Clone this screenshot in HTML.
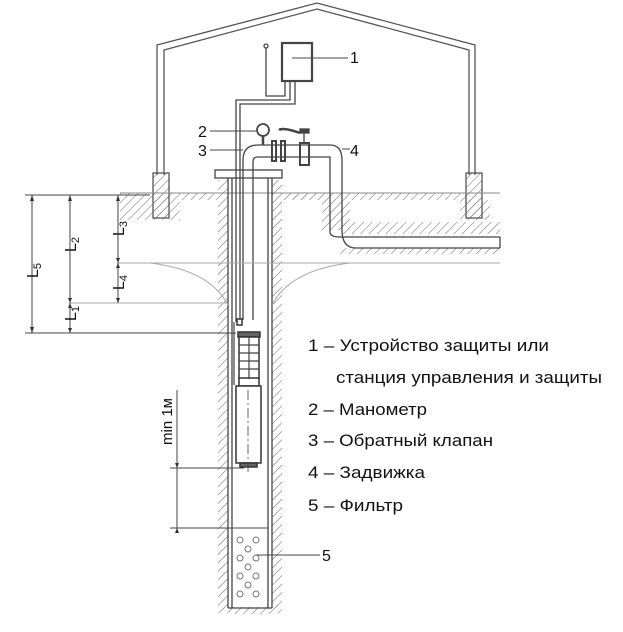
<!DOCTYPE html>
<html><head><meta charset="utf-8"><style>
html,body{margin:0;padding:0;background:#fff}
svg{display:block}
text{font-family:"Liberation Sans","Noto Sans CJK SC",sans-serif;fill:#111}
</style></head><body>
<svg width="623" height="632" viewBox="0 0 623 632" xmlns="http://www.w3.org/2000/svg">
<defs>
<pattern id="h" width="6" height="6" patternUnits="userSpaceOnUse" patternTransform="rotate(45)">
<line x1="0" y1="0" x2="0" y2="6" stroke="#666" stroke-width="1"/>
</pattern>
</defs>
<g fill="none" stroke="#555" stroke-width="1.3">
<polyline points="157,175 157,45 317,3 475,45 475,175"/>
<polyline points="164,175 164,50 317,9 469,50 469,175"/>
</g>
<rect x="153" y="173" width="16" height="45" fill="url(#h)" stroke="#555" stroke-width="1.3"/>
<rect x="466" y="173" width="16" height="45" fill="url(#h)" stroke="#555" stroke-width="1.3"/>
<rect x="120" y="193" width="98" height="7" fill="url(#h)"/>
<rect x="282" y="193" width="200" height="7" fill="url(#h)"/>
<rect x="120" y="200" width="60" height="20" fill="url(#h)"/>
<rect x="460" y="200" width="30" height="20" fill="url(#h)"/>
<rect x="322" y="200" width="28" height="30" fill="url(#h)"/>
<rect x="340" y="222" width="160" height="12" fill="url(#h)"/>
<rect x="340" y="248" width="160" height="6" fill="url(#h)"/>
<line x1="120" y1="193" x2="500" y2="193" stroke="#888" stroke-width="1"/>
<rect x="218" y="180" width="10" height="433" fill="url(#h)"/>
<rect x="272" y="180" width="10" height="433" fill="url(#h)"/>
<rect x="228" y="607" width="44" height="7" fill="url(#h)"/>
<g fill="none" stroke="#444" stroke-width="1.3">
<line x1="228" y1="178" x2="228" y2="608"/>
<line x1="232" y1="178" x2="232" y2="608"/>
<line x1="268" y1="178" x2="268" y2="608"/>
<line x1="272" y1="178" x2="272" y2="608"/>
<line x1="228" y1="608" x2="272" y2="608"/>
<rect x="215" y="170" width="67" height="8" fill="#fff"/>
<path d="M243,320 V160 Q243,145 258,145 H330 Q342,145 342,160 V230 Q342,248 356,248 H500"/>
<path d="M253,320 V162 Q253,157 258,157 H330 Q330,157 330,162 V232 Q330,237 340,237"/>
<line x1="340" y1="237" x2="500" y2="237"/>
<line x1="500" y1="237" x2="500" y2="248"/>
<polyline points="236,322 236,100 290,100 290,81"/>
<polyline points="240,322 240,104 295,104 295,81"/>
<polyline points="266,48 266,96 285,96 285,81"/>
<circle cx="266" cy="46" r="2"/>
<rect x="282" y="43" width="30" height="38" stroke-width="2.2"/>
<line x1="292" y1="58" x2="348" y2="58" stroke-width="1"/>
<rect x="272" y="141" width="4" height="20" stroke-width="2"/>
<rect x="281" y="141" width="4" height="20" stroke-width="2"/>
<rect x="300" y="143" width="9" height="22" stroke-width="2"/>
<line x1="304" y1="131" x2="304" y2="143"/>
<rect x="300" y="129" width="9" height="4" fill="#444"/>
<path d="M279,130 Q283,127 300,133" stroke-width="2.5"/>
<circle cx="263" cy="130" r="6" stroke-width="1.8"/>
<line x1="263" y1="136" x2="263" y2="145" stroke-width="2.5"/>
<line x1="210" y1="131" x2="256" y2="131" stroke-width="1"/>
<line x1="210" y1="150" x2="243" y2="150" stroke-width="1"/>
<line x1="342" y1="149" x2="350" y2="149" stroke-width="1"/>
</g>
<g stroke="#aaa" stroke-width="1" fill="none">
<line x1="118" y1="263" x2="500" y2="263"/>
<path d="M150,263 Q210,270 228,305"/>
<path d="M272,305 Q290,270 350,263"/>
<line x1="70" y1="303" x2="228" y2="303"/>
</g>
<g stroke="#444" stroke-width="1" fill="none">
<line x1="25" y1="195" x2="150" y2="195"/>
<line x1="25" y1="333" x2="236" y2="333"/>
<line x1="32" y1="195" x2="32" y2="333"/>
<line x1="70" y1="195" x2="70" y2="333"/>
<line x1="118" y1="195" x2="118" y2="303"/>
<line x1="170" y1="468" x2="244" y2="468"/>
<line x1="170" y1="528" x2="268" y2="528"/>
<line x1="177" y1="390" x2="177" y2="532"/>
</g>
<g fill="#333">
<path d="M32,195 l-2,6 h4z M32,333 l-2,-6 h4z M70,195 l-2,6 h4z M70,303 l-2,-5 h4z M70,303 l-2,5 h4z M70,333 l-2,-5 h4z M118,195 l-2,6 h4z M118,263 l-2,-5 h4z M118,263 l-2,5 h4z M118,303 l-2,-5 h4z M177,468 l-2,-5 h4z M177,528 l-2,5 h4z"/>
</g>
<g stroke="#333" fill="#fff" stroke-width="1.5">
<rect x="237" y="319" width="5" height="6"/>
<rect x="238" y="332" width="22" height="5" fill="#666"/>
<rect x="239" y="337" width="20" height="42"/>
<rect x="239" y="378" width="20" height="8"/>
<rect x="236" y="386" width="25" height="77"/>
<rect x="240" y="463" width="17" height="4" fill="#666"/>
</g>
<g stroke="#444" stroke-width="1.2" fill="none">
<line x1="249" y1="337" x2="249" y2="379"/>
<line x1="239" y1="345" x2="259" y2="345"/><line x1="239" y1="353" x2="259" y2="353"/>
<line x1="239" y1="361" x2="259" y2="361"/><line x1="239" y1="369" x2="259" y2="369"/>
<line x1="234" y1="322" x2="234" y2="385"/>
<line x1="248" y1="390" x2="248" y2="475" stroke-dasharray="10,3,2,3" stroke-width="0.8"/>
</g>
<g fill="none" stroke="#777" stroke-width="1">
<circle cx="240" cy="540" r="3"/><circle cx="256" cy="540" r="3"/>
<circle cx="248" cy="549" r="3"/>
<circle cx="240" cy="558" r="3"/><circle cx="256" cy="558" r="3"/>
<circle cx="248" cy="567" r="3"/>
<circle cx="240" cy="576" r="3"/><circle cx="256" cy="576" r="3"/>
<circle cx="248" cy="585" r="3"/>
<circle cx="240" cy="594" r="3"/><circle cx="256" cy="594" r="3"/>
<line x1="256" y1="555" x2="320" y2="555" stroke="#444"/>
</g>
<g font-size="16">
<text x="350" y="63">1</text>
<text x="198" y="137">2</text>
<text x="198" y="156">3</text>
<text x="350" y="156">4</text>
<text x="322" y="561">5</text>
</g>
<g font-size="16">
<text transform="translate(38,278) rotate(-90)">L<tspan font-size="11" dy="3">5</tspan></text>
<text transform="translate(76,252) rotate(-90)">L<tspan font-size="11" dy="3">2</tspan></text>
<text transform="translate(124,236) rotate(-90)">L<tspan font-size="11" dy="3">3</tspan></text>
<text transform="translate(124,290) rotate(-90)">L<tspan font-size="11" dy="3">4</tspan></text>
<text transform="translate(76,321) rotate(-90)">L<tspan font-size="11" dy="3">1</tspan></text>
<text transform="translate(172,445) rotate(-90)" font-family="Liberation Serif,serif" font-size="15">min 1м</text>
</g>
<g font-size="16.5">
<text x="308" y="351" textLength="241" lengthAdjust="spacingAndGlyphs">1 – Устройство защиты или</text>
<text x="336" y="383" textLength="266" lengthAdjust="spacingAndGlyphs">станция управления и защиты</text>
<text x="308" y="415" textLength="119" lengthAdjust="spacingAndGlyphs">2 – Манометр</text>
<text x="308" y="446" textLength="185" lengthAdjust="spacingAndGlyphs">3 – Обратный клапан</text>
<text x="308" y="478" textLength="117" lengthAdjust="spacingAndGlyphs">4 – Задвижка</text>
<text x="308" y="511" textLength="95" lengthAdjust="spacingAndGlyphs">5 – Фильтр</text>
</g>
</svg>
</body></html>
